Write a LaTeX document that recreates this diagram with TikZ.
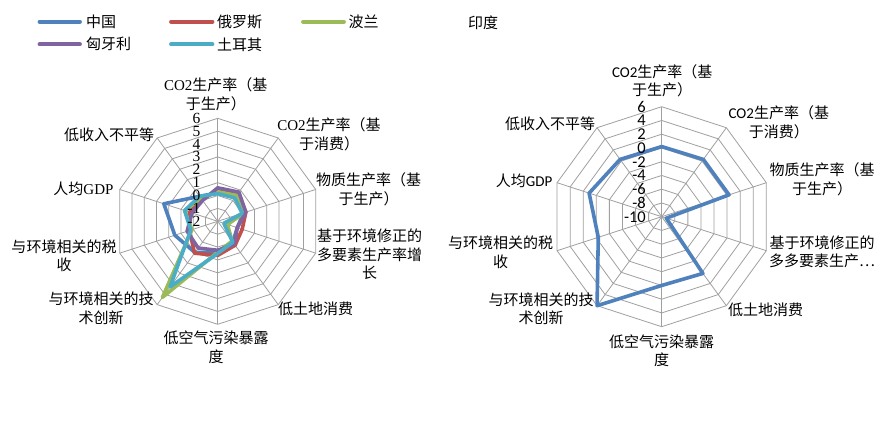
\documentclass[tikz,border=0pt]{standalone}
\usepackage{fontspec}
\setmainfont{Liberation Serif}
\newfontfamily\cjk{Noto Sans CJK SC}
\newfontfamily\lser{Liberation Serif}
\newfontfamily\carl{Carlito}
\definecolor{cChina}{HTML}{4F81BD}
\definecolor{cRussia}{HTML}{C0504D}
\definecolor{cPoland}{HTML}{9BBB59}
\definecolor{cHungary}{HTML}{8064A2}
\definecolor{cTurkey}{HTML}{4BACC6}
\definecolor{gridgray}{HTML}{A0A0A0}
\newcommand\rdline[4]{\draw[series,#1] (90:{(#3)*#2pt}) foreach \v [count=\i] in {#4} { -- ({90-36*\i}:{(\v)*#2pt}) } -- cycle;}
\tikzset{
  gridline/.style={draw=gridgray, line width=0.8pt},
  series/.style={line width=3.6pt, line join=round},
  lbl/.style={font=\cjk\fontsize{15}{18.5}\selectfont, align=center, inner sep=0pt},
  ticklbl/.style={inner sep=0pt, anchor=east},
  legline/.style={line width=3.8pt, line cap=round},
  legtxt/.style={font=\cjk\fontsize{15}{18}\selectfont, anchor=west, inner sep=0pt}
}
\begin{document}
\begin{tikzpicture}[x=1pt,y=-1pt]
\useasboundingbox (0,0) rectangle (886,439);
\fill[white] (0,0) rectangle (886,439);

% ---------- legend ----------
\draw[legline,cChina] (39.5,21.7) -- (80,21.7);
\node[legtxt] (lgA) at (86,21.7) {中国};
\draw[legline,cRussia] (171,21.7) -- (212.5,21.7);
\node[legtxt] (lgB) at (217,21.7) {俄罗斯};
\draw[legline,cPoland] (303,21.7) -- (344,21.7);
\node[legtxt] (lgC) at (348.5,21.7) {波兰};
\draw[legline,cHungary] (39.5,44.3) -- (80,44.3);
\node[legtxt] (lgD) at (86,44.3) {匈牙利};
\draw[legline,cTurkey] (171,44.3) -- (212.5,44.3);
\node[legtxt] (lgE) at (217,44.3) {土耳其};
\node[lbl] (title) at (483,23) {印度};

% ---------- left radar ----------
\begin{scope}[shift={(217.7,221.3)}]
  \foreach \k in {1,...,8}
    \draw[gridline] (90:{\k*12.875pt}) foreach \i in {1,...,9} { -- ({90-36*\i}:{\k*12.875pt}) } -- cycle;
  \foreach \i in {0,...,9}
    \draw[gridline] (0,0) -- ({90-36*\i}:103pt);
  \rdline{cChina}{12.875}{2.2}{2.4,2.1,1.6,2.0,2.4,3.0,3.5,4.4,2.4}
  \rdline{cRussia}{12.875}{2.4}{2.6,2.3,2.0,2.3,2.65,3.06,2.3,2.3,2.1}
  \rdline{cPoland}{12.875}{2.3}{2.5,2.2,0.8,1.9,2.4,7.3,2.1,2.7,2.2}
  \rdline{cHungary}{12.875}{2.6}{2.8,2.3,1.6,2.2,2.25,2.57,2.5,2.1,2.0}
  \rdline{cTurkey}{12.875}{2.15}{2.25,2.0,0.5,2.0,2.5,6.3,2.2,2.7,2.4}
\end{scope}
\foreach \v [count=\n] in {-2,...,6}
  \node[ticklbl, font=\lser\fontsize{15.5}{15.5}\selectfont] (lt\n) at (200.5,{221.3-(\v+2)*12.875}) {\v};

\node[lbl] (la0) at (215.8,94.2) {{\lser CO2}生产率（基\\于生产）};
\node[lbl] (la1) at (329,134.2) {{\lser CO2}生产率（基\\于消费）};
\node[lbl] (la2) at (368.7,189.2) {物质生产率（基\\于生产）};
\node[lbl] (la3) at (369.5,254.4) {基于环境修正的\\多要素生产率增\\长};
\node[lbl] (la4) at (315.5,309.3) {低土地消费};
\node[lbl] (la5) at (216.2,347.5) {低空气污染暴露\\度};
\node[lbl] (la6) at (101,308.5) {与环境相关的技\\术创新};
\node[lbl] (la7) at (64,256) {与环境相关的税\\收};
\node[lbl] (la8) at (83.5,189) {人均{\lser GDP}};
\node[lbl] (la9) at (109,134.3) {低收入不平等};

% ---------- right radar ----------
\begin{scope}[shift={(661.7,216.7)}]
  \foreach \k in {1,...,8}
    \draw[gridline] (90:{\k*13.75pt}) foreach \i in {1,...,9} { -- ({90-36*\i}:{\k*13.75pt}) } -- cycle;
  \foreach \i in {0,...,9}
    \draw[gridline] (0,0) -- ({90-36*\i}:110pt);
  \rdline{cChina}{13.75}{5.1}{5.15,5.15,0.35,5.1,5.0,8.0,4.85,5.55,5.15}
\end{scope}
\foreach \v [count=\n] in {-10,-8,...,6}
  \node[ticklbl, font=\carl\fontsize{16.5}{16.5}\selectfont] (rt\n) at (646,{216.7-(\v+10)/2*13.75}) {\v};

\node[lbl] (ra0) at (662.2,80.8) {{\carl CO2}生产率（基\\于生产）};
\node[lbl] (ra1) at (778.8,122.5) {{\carl CO2}生产率（基\\于消费）};
\node[lbl] (ra2) at (822,179.2) {物质生产率（基\\于生产）};
\node[lbl] (ra3) at (822,251.7) {基于环境修正的\\多多要素生产…};
\node[lbl] (ra4) at (765.5,310) {低土地消费};
\node[lbl] (ra5) at (661.7,350.8) {低空气污染暴露\\度};
\node[lbl] (ra6) at (541,308.8) {与环境相关的技\\术创新};
\node[lbl] (ra7) at (500.5,252.5) {与环境相关的税\\收};
\node[lbl] (ra8) at (524.2,180.7) {人均{\carl GDP}};
\node[lbl] (ra9) at (550,123.3) {低收入不平等};
\end{tikzpicture}
\end{document}
